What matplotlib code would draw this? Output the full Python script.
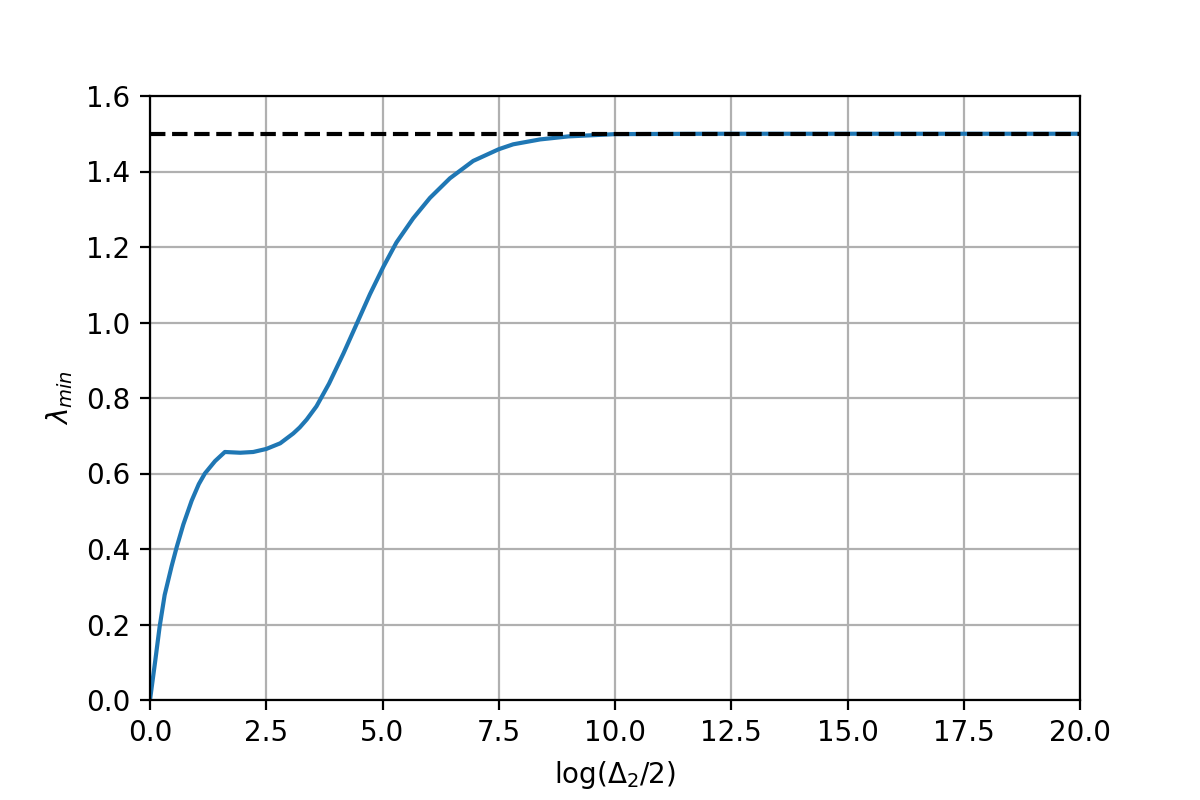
import matplotlib
matplotlib.use("Agg")
import matplotlib.pyplot as plt

# values
log_delta = [0.0, 0.115, 0.208, 0.315, 0.466, 0.574, 0.717, 0.896, 1.05, 1.18, 1.40, 1.61,
             1.94, 2.22, 2.5, 2.80, 3.08, 3.22, 3.37, 3.58, 3.85, 4.16, 4.44, 4.73, 5.02,
             5.30, 5.66, 6.02, 6.45, 6.95, 7.5, 7.81, 8.39, 9.0, 10.0, 12.0, 15.0, 20.0]
lambda_min = [0.0, 0.106, 0.195, 0.278, 0.355, 0.405, 0.465, 0.528, 0.572, 0.600, 0.633, 0.657,
              0.655, 0.657, 0.665, 0.680, 0.706, 0.722, 0.743, 0.778, 0.838, 0.918, 0.995, 1.075, 1.148,
              1.212, 1.276, 1.330, 1.382, 1.428, 1.459, 1.472, 1.485, 1.493, 1.499, 1.5, 1.5, 1.5]
limit = 1.5

fig = plt.figure(figsize=(6, 4), dpi=200)
ax = fig.add_subplot(111)
fig.subplots_adjust(bottom=0.125)
ax.plot(log_delta, lambda_min)
ax.axhline(limit, color="k", linestyle="--")
ax.set_xlim(0, 20)
ax.set_ylim(0, 1.6)
ax.set_xlabel(r"log($\Delta_2$/2)")
ax.set_ylabel(r"$\lambda_{min}$")
ax.grid(True)
fig.savefig("out.png")
